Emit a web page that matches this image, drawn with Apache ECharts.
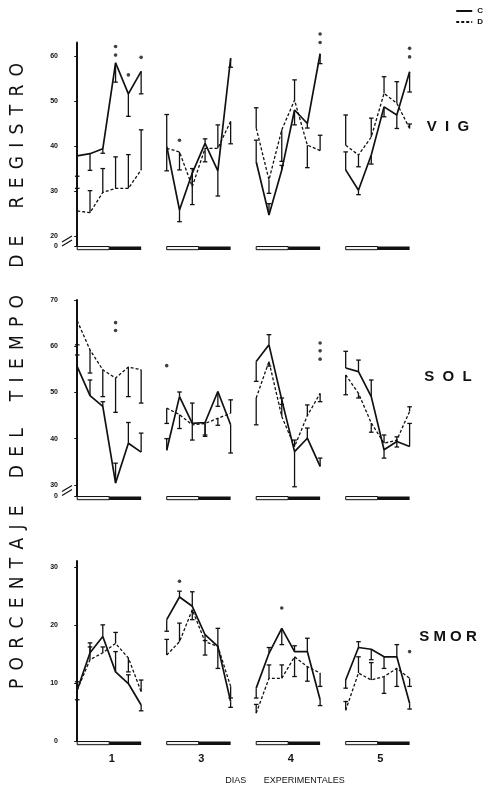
<!DOCTYPE html>
<html>
<head>
<meta charset="utf-8">
<script src="https://cdn.jsdelivr.net/npm/echarts@6/dist/echarts.min.js"></script>
<style>
html, body { margin: 0; padding: 0; background: #fff; }
#chart { width: 494px; height: 785px; }
</style>
</head>
<body>
<div id="chart"></div>
<script>
// dias experimentales, 6 registros por dia
const days = ['1', '3', '4', '5'];
const step = 7; // posiciones por grupo en el eje x

// VIG
const vigTicks = [20, 30, 40, 50, 60];
const vigC = [
  [37.8, 38.3, 39.4, 58.5, 51.6, 56.6],
  [40.0, 25.8, 34.0, 40.6, 34.5, 59.5],
  [36.5, 24.7, 34.7, 48.0, 45.0, 60.5],
  [34.7, 30.2, 38.0, 48.7, 46.9, 56.5]
];
const vigCErr = [
  [-4.5, -3.7, -1.0, -4.3, -5.0, -5.0],
  [7.0, -2.6, -7.0, 1.0, -5.6, -2.0],
  [4.8, 2.5, 1.0, -3.3, -1.0, -2.2],
  [4.0, -1.0, -2.0, -2.2, -3.0, -4.5]
];
const vigD = [
  [25.6, 25.2, 29.7, 30.6, 30.6, 34.7],
  [39.5, 38.7, 31.0, 39.5, 39.5, 45.5],
  [44.0, 32.5, 43.6, 50.2, 40.2, 39.0],
  [40.2, 38.0, 42.0, 51.7, 49.5, 43.9]
];
const vigDErr = [
  [5.0, 4.9, 5.3, 7.0, 7.5, 8.9],
  [-5.0, -4.0, 4.0, -3.0, 5.2, -5.0],
  [4.5, -3.0, -7.0, 4.5, -5.0, 3.4],
  [6.7, -2.6, 4.2, 3.7, 4.8, 1.0]
];
// [dia, registro, valor]
const vigSig = [[0, 3, 62.1], [0, 3, 60.2], [0, 4, 55.8], [0, 5, 59.7], [1, 1, 41.3],
  [2, 5, 64.9], [2, 5, 63.0], [3, 5, 61.7], [3, 5, 59.8]];

// SOL
const solTicks = [30, 40, 50, 60, 70];
const solC = [
  [55.6, 49.3, 47.0, 30.4, 39.0, 37.1],
  [37.5, 49.1, 43.3, 43.5, 50.2, 43.0],
  [56.7, 60.3, 48.4, 37.2, 40.1, 34.0],
  [55.3, 54.5, 49.1, 37.6, 39.4, 38.3]
];
const solCErr = [
  [2.5, 3.4, 1.0, 4.3, 4.5, 4.1],
  [2.5, 1.0, 4.4, -3.0, -3.2, -6.1],
  [-4.3, 2.2, -1.0, -7.6, 2.2, 1.8],
  [3.6, 2.5, 3.6, -1.8, 1.0, 5.0]
];
const solD = [
  [65.5, 59.2, 54.9, 53.1, 55.5, 54.9],
  [46.6, 45.2, 43.0, 43.3, 44.4, 45.5],
  [48.8, 56.7, 44.8, 38.3, 45.0, 49.8],
  [53.8, 49.8, 43.4, 39.0, 39.7, 45.9]
];
const solDErr = [
  [-5.2, -5.0, -5.8, -7.4, -6.4, -7.2],
  [-3.3, -3.0, -3.3, -2.5, -1.5, 2.9],
  [-5.8, -1.0, 4.0, 1.4, 2.3, -1.8],
  [-4.3, -1.0, -2.0, 1.8, -1.5, 1.0]
];
const solSig = [[0, 3, 65.1], [0, 3, 63.4], [1, 0, 55.8], [2, 5, 60.7], [2, 5, 59.0], [2, 5, 57.2]];

// SMOR
const smorTicks = [0, 10, 20, 30];
const smorC = [
  [8.8, 15.2, 18.0, 11.9, 9.9, 6.2],
  [20.9, 24.8, 23.2, 18.3, 16.3, 6.8],
  [9.1, 15.1, 19.4, 15.4, 15.4, 7.1],
  [10.5, 16.1, 15.8, 14.5, 14.5, 6.5]
];
const smorCErr = [
  [1.4, 1.0, 2.0, 3.5, 1.5, -1.0],
  [-2.0, 1.0, 2.5, -1.0, -3.8, -1.0],
  [-1.7, 1.0, -2.8, 1.0, 2.3, -1.0],
  [-1.4, 1.0, -1.8, -2.0, 2.1, -1.0]
];
const smorD = [
  [8.8, 14.0, 15.2, 16.8, 14.3, 8.5],
  [14.8, 17.1, 22.6, 17.1, 16.3, 9.4],
  [4.8, 10.8, 10.8, 14.5, 12.8, 11.7],
  [5.3, 11.7, 10.5, 11.1, 12.5, 10.8]
];
const smorDErr = [
  [-1.7, 2.9, 1.0, 1.9, -2.4, 2.0],
  [2.7, 3.2, -1.7, -2.3, 3.1, -2.0],
  [1.5, 2.3, 2.3, -3.4, -2.5, -2.3],
  [1.5, 2.8, 3.0, -2.9, -3.1, -1.4]
];
const smorSig = [[1, 1, 27.5], [2, 2, 22.9], [3, 5, 15.4]];

const panels = [
  { name: 'V  I  G', ticks: vigTicks, min: 17.8, max: 63, top: 42.5, bottom: 539, labelY: 127,
    C: vigC, CErr: vigCErr, D: vigD, DErr: vigDErr, sig: vigSig, broken: true },
  { name: 'S  O  L', ticks: solTicks, min: 27.6, max: 70, top: 300, bottom: 289, labelY: 377,
    C: solC, CErr: solCErr, D: solD, DErr: solDErr, sig: solSig, broken: true },
  { name: 'S M O R', ticks: smorTicks, min: 0, max: 31, top: 561, bottom: 44, labelY: 637,
    C: smorC, CErr: smorCErr, D: smorD, DErr: smorDErr, sig: smorSig, broken: false }
];

const ink = '#111';
const lineStyles = {
  C: { color: ink, width: 1.7, type: 'solid' },
  D: { color: ink, width: 1.3, type: [3, 2] }
};

const grids = [], xAxes = [], yAxes = [], series = [];

panels.forEach((p, k) => {
  grids.push({ left: 67, right: 78, top: p.top, bottom: p.bottom });
  const labelVals = p.broken ? [p.min].concat(p.ticks) : p.ticks;
  yAxes.push({
    gridIndex: k, type: 'value', min: p.min, max: p.max,
    axisLine: { show: true, lineStyle: { color: ink, width: 2 } },
    axisTick: { show: true, length: 3, customValues: labelVals, lineStyle: { color: ink, width: 1 } },
    axisLabel: {
      customValues: labelVals, margin: 9, fontSize: 7, fontWeight: 'bold', color: ink,
      fontFamily: 'Liberation Sans',
      formatter: v => (v < p.ticks[0] ? '0' : String(v))
    },
    splitLine: { show: false }
  });
  xAxes.push({
    gridIndex: k, type: 'value', min: -0.8, max: 26.5,
    axisLine: { show: false }, axisTick: { show: false }, splitLine: { show: false },
    axisLabel: {
      show: k === 2, customValues: days.map((d, g) => g * step + 2.7), margin: 12,
      fontSize: 11, fontWeight: 'bold', color: ink, fontFamily: 'Liberation Sans',
      formatter: v => days[Math.round((v - 2.7) / step)]
    }
  });

  ['C', 'D'].forEach(cond => {
    p[cond].forEach((vals, g) => {
      series.push({
        type: 'line', name: cond, xAxisIndex: k, yAxisIndex: k,
        data: vals.map((v, i) => [g * step + i, v]),
        symbol: 'none', lineStyle: lineStyles[cond], itemStyle: { color: ink },
        silent: true, z: 3
      });
    });
    const errData = [];
    p[cond].forEach((vals, g) => vals.forEach((v, i) => errData.push([g * step + i, v, p[cond + 'Err'][g][i]])));
    series.push({
      type: 'custom', xAxisIndex: k, yAxisIndex: k, data: errData, silent: true, z: 2,
      encode: { x: 0, y: 1 }, clip: false,
      renderItem: (params, api) => {
        const x = api.value(0), v = api.value(1), e = api.value(2);
        const a = api.coord([x, v]), b = api.coord([x, v + e]);
        const st = { stroke: ink, lineWidth: 1.3 };
        return {
          type: 'group', children: [
            { type: 'line', shape: { x1: a[0], y1: a[1], x2: b[0], y2: b[1] }, style: st },
            { type: 'line', shape: { x1: b[0] - 2.3, y1: b[1], x2: b[0] + 2.3, y2: b[1] }, style: st }
          ]
        };
      }
    });
  });

  // barras luz / oscuridad bajo cada dia
  series.push({
    type: 'custom', xAxisIndex: k, yAxisIndex: k, silent: true, clip: false,
    data: days.map((d, g) => [g * step, p.min]), encode: { x: 0, y: 1 },
    renderItem: (params, api) => {
      const a = api.coord([api.value(0), api.value(1)]);
      const m = api.coord([api.value(0) + 2.5, api.value(1)]);
      const b = api.coord([api.value(0) + 5, api.value(1)]);
      const y = a[1] + 0.5;
      return {
        type: 'group', children: [
          { type: 'rect', shape: { x: a[0], y: y, width: m[0] - a[0], height: 3.2 },
            style: { fill: '#f2f2f2', stroke: ink, lineWidth: 1 } },
          { type: 'rect', shape: { x: m[0], y: y, width: b[0] - m[0], height: 3.6 },
            style: { fill: ink } }
        ]
      };
    }
  });

  series.push({
    type: 'scatter', xAxisIndex: k, yAxisIndex: k, silent: true, clip: false,
    data: p.sig.map(s => [s[0] * step + s[1], s[2]]),
    symbol: 'circle', symbolSize: 3.6, itemStyle: { color: ink }
  });
});

const yTitle = 'PORCENTAJE DEL TIEMPO DE REGISTRO';
const spacedTitle = yTitle.split(' ').map(w => w.split('').join(' \u2006')).join('     ');

const chart = echarts.init(document.getElementById('chart'));
chart.setOption({
  animation: false,
  backgroundColor: '#fff',
  grid: grids,
  xAxis: xAxes,
  yAxis: yAxes,
  legend: {
    data: ['C', 'D'], orient: 'vertical', right: 6, top: 2, itemWidth: 16, itemHeight: 8, itemGap: 3,
    itemStyle: { opacity: 0 },
    textStyle: { fontSize: 8, fontWeight: 'bold', color: ink, fontFamily: 'Liberation Sans' }
  },
  series: series
});

// textos y marcas de corte del eje
const graphics = [
  {
    type: 'text', x: 18, y: 376, rotation: Math.PI / 2,
    style: { text: spacedTitle, fontSize: 19, fontFamily: '"Liberation Sans Narrow", "DejaVu Sans Condensed", sans-serif',
      fill: ink, align: 'center', verticalAlign: 'middle' }
  },
  {
    type: 'text', x: 285, y: 781,
    style: { text: 'DIAS       EXPERIMENTALES', fontSize: 9, fontFamily: 'Liberation Sans', fill: ink,
      align: 'center', verticalAlign: 'middle' }
  }
];
panels.forEach((p, k) => {
  graphics.push({
    type: 'text', x: 448, y: p.labelY,
    style: { text: p.name, fontSize: 15, fontWeight: 'bold', fontFamily: 'Liberation Sans', fill: ink,
      align: 'center', verticalAlign: 'middle' }
  });
  if (p.broken) {
    const c = chart.convertToPixel({ gridIndex: k }, [-0.8, (p.min + p.ticks[0]) / 2]);
    graphics.push({ type: 'rect', shape: { x: c[0] - 2, y: c[1] - 2, width: 4, height: 4 }, style: { fill: '#fff' } });
    [-2, 2].forEach(d => graphics.push({
      type: 'line', shape: { x1: c[0] - 5, y1: c[1] + d + 3, x2: c[0] + 5, y2: c[1] + d - 3 },
      style: { stroke: ink, lineWidth: 1.2 }
    }));
  }
});
chart.setOption({ graphic: graphics });
</script>
</body>
</html>
